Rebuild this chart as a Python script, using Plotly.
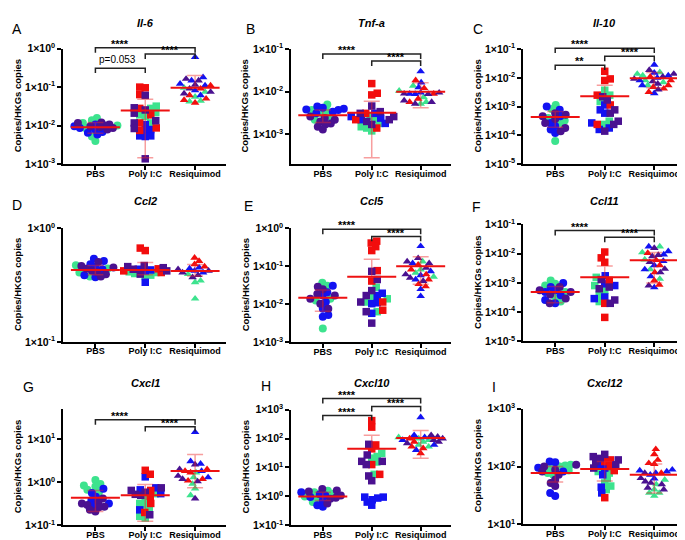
import numpy as np
import plotly.graph_objects as go

# ---------------- DATA ----------------
GROUPS = ["PBS", "Poly I:C", "Resiquimod"]

IL6 = {
    "PBS": {"g": [0.0157, 0.0137, 0.0117, 0.0100, 0.0087, 0.0052, 0.0040],
            "b": [0.0106, 0.0096, 0.0087, 0.0079, 0.0068, 0.0065, 0.0059],
            "p": [0.0120, 0.0117, 0.0106, 0.0100, 0.0096, 0.0092, 0.0087, 0.0079]},
    "Poly I:C": {"g": [0.032, 0.028, 0.0218, 0.019, 0.0173, 0.0117],
                 "b": [0.0106, 0.0079, 0.0072, 0.0054, 0.0054, 0.0052],
                 "r": [0.100, 0.096, 0.064, 0.028, 0.019, 0.0117, 0.0087, 0.0075],
                 "p": [0.061, 0.029, 0.0255, 0.021, 0.0134, 0.0117, 0.0084, 0.00137]},
    "Resiquimod": {"g": [0.096, 0.075, 0.056, 0.044, 0.042],
                   "b": [0.60, 0.18, 0.148, 0.122, 0.110, 0.082, 0.061],
                   "r": [0.110, 0.091, 0.061, 0.050, 0.046, 0.039],
                   "p": [0.163, 0.148, 0.115, 0.091, 0.075, 0.068]},
}
IL6_STATS = {"mean": [0.0091, 0.0245, 0.096], "low": [0.0063, 0.00145, None], "high": [0.012, 0.048, 0.20]}
IL6_SIG = [(0, 2, 1.05, "****"), (1, 2, 0.72, "****"), (0, 1, 0.31, "p=0.053")]

TNFA = {
    "PBS": {"g": [0.0050, 0.0037, 0.0034, 0.0031, 0.0026, 0.0022],
            "b": [0.0045, 0.0042, 0.0040, 0.0038, 0.0037, 0.0034, 0.0031],
            "p": [0.0026, 0.0024, 0.0022, 0.0020, 0.0018, 0.0017, 0.0015, 0.0013]},
    "Poly I:C": {"g": [0.0026, 0.0022, 0.0018, 0.0015, 0.0014, 0.0012],
                 "b": [0.0031, 0.0026, 0.0024, 0.0022, 0.0018],
                 "r": [0.0155, 0.0092, 0.0084, 0.0031, 0.0022, 0.0014],
                 "p": [0.0046, 0.0034, 0.0031, 0.0026, 0.0022, 0.0020, 0.0017]},
    "Resiquimod": {"g": [0.0137, 0.0105, 0.0074, 0.0057, 0.0052],
                   "b": [0.030, 0.0164, 0.0126, 0.0095, 0.0089, 0.0088],
                   "r": [0.0185, 0.0121, 0.0089, 0.0068, 0.0057],
                   "p": [0.0095, 0.0090, 0.0088, 0.0062, 0.0057, 0.0052]},
}
TNFA_STATS = {"mean": [0.0028, 0.0032, 0.010], "low": [0.0019, 0.00028, 0.0042], "high": [0.0037, 0.006, 0.0163]}
TNFA_SIG = [(0, 2, 0.0767, "****"), (1, 2, 0.0525, "****")]

IL10 = {
    "PBS": {"g": [0.00114, 0.00083, 0.00040, 0.00033, 0.00027, 0.000064],
            "b": [0.00100, 0.00077, 0.00046, 0.00027, 0.00021, 0.00016, 0.00012],
            "p": [0.00059, 0.00052, 0.00046, 0.00037, 0.00027, 0.00018, 0.00014]},
    "Poly I:C": {"g": [0.0037, 0.0025, 0.0015, 0.00031, 0.00024],
                 "b": [0.00114, 0.00077, 0.00059, 0.00027, 0.00018, 0.00016],
                 "r": [0.0169, 0.0092, 0.0081, 0.0025, 0.00114, 0.00024],
                 "p": [0.0022, 0.0017, 0.00077, 0.00059, 0.00031, 0.00024, 0.00014]},
    "Resiquimod": {"g": [0.0156, 0.0137, 0.0120, 0.0081, 0.0070, 0.0055],
                   "b": [0.0285, 0.0150, 0.0120, 0.0100, 0.0081, 0.0055, 0.0029],
                   "r": [0.0110, 0.0081, 0.0055, 0.0048, 0.0042, 0.0032],
                   "p": [0.0187, 0.0137, 0.0110, 0.0092, 0.0075, 0.0062, 0.0039]},
}
IL10_STATS = {"mean": [0.00043, 0.0023, 0.0097], "low": [0.00019, None, 0.0045], "high": [0.00068, 0.0055, 0.0155]}
IL10_SIG = [(0, 2, 0.108, "****"), (1, 2, 0.056, "****"), (0, 1, 0.0277, "**")]

CCL2 = {
    "PBS": {"g": [0.472, 0.442, 0.408, 0.377],
            "b": [0.54, 0.515, 0.482, 0.46, 0.436, 0.387, 0.37],
            "p": [0.505, 0.466, 0.451, 0.44, 0.422, 0.41, 0.395, 0.377]},
    "Poly I:C": {"g": [0.414, 0.408, 0.40, 0.387, 0.377],
                 "b": [0.436, 0.43, 0.422, 0.335],
                 "r": [0.67, 0.637, 0.44, 0.422, 0.408],
                 "p": [0.47, 0.46, 0.45, 0.436, 0.422, 0.395]},
    "Resiquimod": {"g": [0.395, 0.346, 0.335, 0.24],
                   "b": [0.451, 0.442, 0.422, 0.408],
                   "r": [0.55, 0.515, 0.482, 0.46],
                   "p": [0.436, 0.422, 0.408, 0.387, 0.37]},
}
CCL2_STATS = {"mean": [0.43, 0.43, 0.42], "low": [0.39, 0.39, 0.38], "high": [0.47, 0.50, 0.48]}
CCL2_SIG = []

CCL5 = {
    "PBS": {"g": [0.037, 0.031, 0.014, 0.0127, 0.0023],
            "b": [0.031, 0.0207, 0.017, 0.0115, 0.0077, 0.0052, 0.0047],
            "p": [0.029, 0.025, 0.0188, 0.017, 0.014, 0.0104, 0.0077]},
    "Poly I:C": {"g": [0.028, 0.0154, 0.014, 0.0115, 0.0064],
                 "b": [0.0196, 0.017, 0.011, 0.0104, 0.0058],
                 "r": [0.46, 0.41, 0.33, 0.26, 0.077, 0.041, 0.0115, 0.007],
                 "p": [0.074, 0.045, 0.023, 0.017, 0.0115, 0.0064, 0.0032]},
    "Resiquimod": {"g": [0.134, 0.082, 0.067, 0.053],
                   "b": [0.34, 0.12, 0.074, 0.058, 0.045, 0.025, 0.0164],
                   "r": [0.11, 0.082, 0.061, 0.045, 0.034, 0.0295],
                   "p": [0.164, 0.134, 0.12, 0.091, 0.061, 0.050, 0.041]},
}
CCL5_STATS = {"mean": [0.015, 0.053, 0.10], "low": [0.0066, None, 0.034], "high": [0.024, 0.154, 0.18]}
CCL5_SIG = [(0, 2, 0.94, "****"), (1, 2, 0.61, "****")]

CCL11 = {
    "PBS": {"g": [0.0012, 0.00093, 0.00081, 0.00049, 0.00033, 0.00023],
            "b": [0.0010, 0.00072, 0.00056, 0.00049, 0.00038, 0.00026, 0.00020],
            "p": [0.00072, 0.00056, 0.00049, 0.00040, 0.00029, 0.00020]},
    "Poly I:C": {"g": [0.00155, 0.00081, 0.00056, 0.00038, 0.00023],
                 "b": [0.00175, 0.00093, 0.00081, 0.00033, 0.00029],
                 "r": [0.0114, 0.0072, 0.0051, 0.0012, 0.0002, 0.000066],
                 "p": [0.0013, 0.00072, 0.00063, 0.00026, 0.0002]},
    "Resiquimod": {"g": [0.0175, 0.0110, 0.0063, 0.0029, 0.00136],
                   "b": [0.0175, 0.0120, 0.0093, 0.0056, 0.0040, 0.0029, 0.00167, 0.0007],
                   "r": [0.0105, 0.0060, 0.0040, 0.00227, 0.0012, 0.00086],
                   "p": [0.0155, 0.0090, 0.0081, 0.0051, 0.0030, 0.00227, 0.00081]},
}
CCL11_STATS = {"mean": [0.00049, 0.00155, 0.006], "low": [0.00021, None, 0.001], "high": [0.00075, 0.0038, 0.011]}
CCL11_SIG = [(0, 2, 0.0617, "****"), (1, 2, 0.0363, "****")]

CXCL1 = {
    "PBS": {"g": [1.13, 0.92, 0.84, 0.80, 0.67, 0.59],
            "b": [0.71, 0.565, 0.46, 0.386, 0.324, 0.298],
            "p": [0.42, 0.354, 0.324, 0.298, 0.273, 0.264, 0.23, 0.21]},
    "Poly I:C": {"g": [0.546, 0.42, 0.324, 0.298, 0.238, 0.163, 0.149],
                 "b": [1.34, 0.745, 0.67, 0.546, 0.23],
                 "r": [1.9, 1.54, 0.65, 0.475, 0.324, 0.2],
                 "p": [0.745, 0.65, 0.59, 0.527, 0.5, 0.177]},
    "Resiquimod": {"g": [1.68, 1.3, 0.92, 0.71, 0.5],
                   "b": [14.6, 3.08, 2.68, 1.83, 1.3],
                   "r": [2.0, 1.83, 1.68, 1.19, 1.09],
                   "p": [2.59, 2.0, 1.41, 1.19, 1.05, 0.42]},
}
CXCL1_STATS = {"mean": [0.44, 0.50, 1.83], "low": [0.21, 0.125, 0.75], "high": [0.65, 0.89, 4.4]}
CXCL1_SIG = [(0, 2, 28.2, "****"), (1, 2, 19.5, "****")]

CXCL10 = {
    "PBS": {"g": [1.59, 1.4, 1.23, 1.0, 0.83, 0.64],
            "b": [1.4, 1.2, 1.08, 0.95, 0.73, 0.5, 0.44],
            "p": [1.81, 1.6, 1.47, 1.08, 0.9, 0.83, 0.57]},
    "Poly I:C": {"g": [31, 24, 21, 15.5, 5.8],
                 "b": [0.95, 0.95, 0.88, 0.77, 0.64, 0.5],
                 "r": [415, 247, 60, 44, 12.6, 5.8],
                 "p": [63, 27, 16.3, 16.3, 12.6, 5.1, 3.5]},
    "Resiquimod": {"g": [110, 100, 88, 77, 60, 52],
                   "b": [540, 130, 110, 88, 60, 40],
                   "r": [100, 77, 52, 46, 31],
                   "p": [130, 114, 100, 88, 77, 68]},
}
CXCL10_STATS = {"mean": [1.0, 44, 105], "low": [0.73, None, 21], "high": [1.4, 130, 190]}
CXCL10_SIG = [(0, 2, 2400, "****"), (1, 2, 1260, "****"), (0, 1, 617, "****")]

CXCL12 = {
    "PBS": {"g": [107, 104, 100, 94, 85, 77, 72],
            "b": [122, 118, 95, 82, 35, 31],
            "p": [107, 100, 88, 82, 72, 59, 52, 46]},
    "Poly I:C": {"g": [82, 77, 63, 52, 46, 40],
                 "b": [107, 94, 72, 44, 35],
                 "r": [130, 122, 100, 85, 29],
                 "p": [162, 148, 138, 130, 122, 107, 94]},
    "Resiquimod": {"g": [59, 49, 40, 35, 35, 31],
                   "b": [88, 85, 82, 77, 72, 62],
                   "r": [199, 162, 130, 114, 110, 77],
                   "p": [77, 63, 55, 52, 49, 43, 40]},
}
CXCL12_STATS = {"mean": [77, 91, 72], "low": [54, 56, 35], "high": [100, 122, 110]}
CXCL12_SIG = []

PANELS = [
    ("A", "Il-6", IL6, IL6_STATS, IL6_SIG),
    ("B", "Tnf-a", TNFA, TNFA_STATS, TNFA_SIG),
    ("C", "Il-10", IL10, IL10_STATS, IL10_SIG),
    ("D", "Ccl2", CCL2, CCL2_STATS, CCL2_SIG),
    ("E", "Ccl5", CCL5, CCL5_STATS, CCL5_SIG),
    ("F", "Ccl11", CCL11, CCL11_STATS, CCL11_SIG),
    ("G", "Cxcl1", CXCL1, CXCL1_STATS, CXCL1_SIG),
    ("H", "Cxcl10", CXCL10, CXCL10_STATS, CXCL10_SIG),
    ("I", "Cxcl12", CXCL12, CXCL12_STATS, CXCL12_SIG),
]

# ---------------- STYLE / GEOMETRY ----------------
W, H = 685, 540
FONT = "Liberation Sans, Arial, sans-serif"
COLORS = {"g": "#3DE38E", "b": "#1212F2", "r": "#F20D0D", "p": "#4A1190"}
COLOR_ORDER = ["g", "b", "r", "p"]
SYMBOL = {"PBS": "circle", "Poly I:C": "square", "Resiquimod": "triangle-up"}
MSIZE = {"PBS": 8, "Poly I:C": 7.5, "Resiquimod": 7.5}
RED = "#EE1111"
PINK = "rgba(238,40,40,0.45)"
XR = [-0.65, 2.62]
COL_PX = [(55, 218), (283, 443), (515, 677)]
GEOM = {  # row, col, log range, bottom px, top px
    "A": (0, 0, -3, 0, 152, 33.5),
    "B": (0, 1, -3.7, -1, 152, 34),
    "C": (0, 2, -5, -1, 152, 34),
    "D": (1, 0, -1, 0, 334.5, 218),
    "E": (1, 1, -3, 0, 335, 218),
    "F": (1, 2, -5, -1, 334, 214),
    "G": (2, 0, -1, 1.7, 523, 403.5),
    "H": (2, 1, -1, 3, 523, 404),
    "I": (2, 2, 1, 3, 522, 403),
}
TITLE_Y = [7, 190, 377]
LETTER_POS = {"A": (9, 13), "B": (243, 13), "C": (470, 13), "D": (9, 194), "E": (240, 195),
              "F": (468, 196), "G": (20, 381), "H": (258, 380), "I": (486, 381)}
YTITLE_X = [9, 237, 470]


def swarm(logv, ppd, ppc, diam=5.5, maxw=22.0):
    ys = np.asarray(logv) * ppd
    order = np.argsort(ys, kind="stable")
    px, py = [], []
    offs = np.zeros(len(ys))
    for k, idx in enumerate(order):
        y = ys[idx]
        s = 1 if k % 2 == 0 else -1
        cands = [0.0]
        for step in np.arange(0.5, maxw + 0.01, 0.5):
            cands += [s * step, -s * step]
        chosen = 0.0
        if px:
            P = np.array(px)
            Q = np.array(py)
            best, bestd, chosen = 0.0, -1.0, None
            for c in cands:
                d = np.min((P - c) ** 2 + (Q - y) ** 2)
                if d >= diam ** 2:
                    chosen = c
                    break
                if d > bestd:
                    bestd, best = d, c
            if chosen is None:
                chosen = best
        px.append(chosen)
        py.append(y)
        offs[idx] = chosen / ppc
    return offs


fig = go.Figure()
layout = {}
annotations = []
shapes = []

for n, (key, title, data, stats, sig) in enumerate(PANELS, start=1):
    row, col, r0, r1, bot, top = GEOM[key]
    xa = "x" if n == 1 else f"x{n}"
    ya = "y" if n == 1 else f"y{n}"
    left, right = COL_PX[col]
    xdom = [left / W, right / W]
    ydom = [1 - bot / H, 1 - top / H]
    ppc = (right - left) / (XR[1] - XR[0])
    ppd = (bot - top) / (r1 - r0)

    for gi, grp in enumerate(GROUPS):
        vals, cols = [], []
        for c in COLOR_ORDER:
            v = data[grp].get(c, [])
            vals += v
            cols += [COLORS[c]] * len(v)
        vals = np.array(vals, dtype=float)
        offs = swarm(np.log10(vals), ppd, ppc)
        fig.add_trace(go.Scatter(
            x=gi + offs, y=vals, mode="markers", xaxis=xa, yaxis=ya,
            marker=dict(symbol=SYMBOL[grp], size=MSIZE[grp], color=cols, line=dict(width=0)),
            cliponaxis=False, hoverinfo="skip", showlegend=False))

    m = np.array(stats["mean"], dtype=float)
    hi = np.array(stats["high"], dtype=float)
    lo = np.array([l if l is not None else mv for l, mv in zip(stats["low"], m)], dtype=float)
    fig.add_trace(go.Scatter(
        x=[0, 1, 2], y=m, mode="markers", xaxis=xa, yaxis=ya,
        marker=dict(symbol="line-ew", size=35, color="rgba(0,0,0,0)", line=dict(color=RED, width=2)),
        error_y=dict(type="data", symmetric=False, array=hi - m, arrayminus=m - lo,
                     color=PINK, thickness=1.5, width=8),
        cliponaxis=False, hoverinfo="skip", showlegend=False))

    kmin = int(np.ceil(r0 - 1e-9))
    kmax = int(np.floor(r1 + 1e-9))
    ks = list(range(kmin, kmax + 1))
    layout["xaxis" if n == 1 else f"xaxis{n}"] = dict(
        domain=xdom, range=XR, anchor=ya, tickmode="array", tickvals=[0, 1, 2], ticktext=GROUPS,
        showline=True, linecolor="black", linewidth=1.5, ticks="outside", ticklen=4, tickwidth=1.5,
        tickcolor="black", showgrid=False, zeroline=False, fixedrange=True, ticklabelstandoff=-4,
        ticklabeloverflow="allow",
        tickfont=dict(family=FONT, size=9, color="black", weight="bold"))
    layout["yaxis" if n == 1 else f"yaxis{n}"] = dict(
        domain=ydom, type="log", range=[r0, r1], anchor=xa, tickmode="array",
        tickvals=[10.0 ** k for k in ks], ticktext=[f"1×10<sup>{k}</sup>" for k in ks],
        showline=True, linecolor="black", linewidth=1.5, ticks="outside", ticklen=4, tickwidth=1.5,
        tickcolor="black", showgrid=False, zeroline=False, fixedrange=True,
        tickfont=dict(family=FONT, size=10.5, color="black", weight="bold"))

    # title / letter / y-title
    cat1_px = left + (1 - XR[0]) * ppc
    annotations.append(dict(x=cat1_px / W, y=1 - TITLE_Y[row] / H, xref="paper", yref="paper",
                            text=f"<b><i>{title}</i></b>", showarrow=False, xanchor="center", yanchor="middle",
                            font=dict(family=FONT, size=11, color="black")))
    lx, ly = LETTER_POS[key]
    annotations.append(dict(x=lx / W, y=1 - ly / H, xref="paper", yref="paper", text=key,
                            showarrow=False, xanchor="center", yanchor="middle",
                            font=dict(family=FONT, size=14, color="black")))
    annotations.append(dict(x=YTITLE_X[col] / W, y=(ydom[0] + ydom[1]) / 2, xref="paper", yref="paper",
                            text="<b>Copies/HKGs copies</b>", textangle=-90, showarrow=False,
                            xanchor="center", yanchor="middle",
                            font=dict(family=FONT, size=9.5, color="black")))

    # significance brackets
    tick = 5 / H
    for (i, j, h, txt) in sig:
        yp = ydom[0] + (np.log10(h) - r0) / (r1 - r0) * (ydom[1] - ydom[0])
        shapes.append(dict(type="path", xref=xa, yref="paper",
                           path=f"M {i},{yp - tick} L {i},{yp} L {j},{yp} L {j},{yp - tick}",
                           line=dict(color="#222222", width=1.5)))
        if txt.startswith("p"):
            annotations.append(dict(x=(i + j) / 2 - 0.05, y=yp, xref=xa, yref="paper", text=txt,
                                    showarrow=False, xanchor="center", yanchor="bottom", yshift=1,
                                    font=dict(family=FONT, size=10, color="black")))
        else:
            tx = 1.5 if i == 1 else 0.5
            annotations.append(dict(x=tx, y=yp, xref=xa, yref="paper", text=f"<b>{txt}</b>",
                                    showarrow=False, xanchor="center", yanchor="bottom", yshift=-4,
                                    font=dict(family=FONT, size=11, color="black")))

fig.update_layout(width=W, height=H, autosize=False, margin=dict(l=0, r=0, t=0, b=0),
                  paper_bgcolor="white", plot_bgcolor="white", showlegend=False,
                  annotations=annotations, shapes=shapes, **layout)
fig.write_html("out.html")
